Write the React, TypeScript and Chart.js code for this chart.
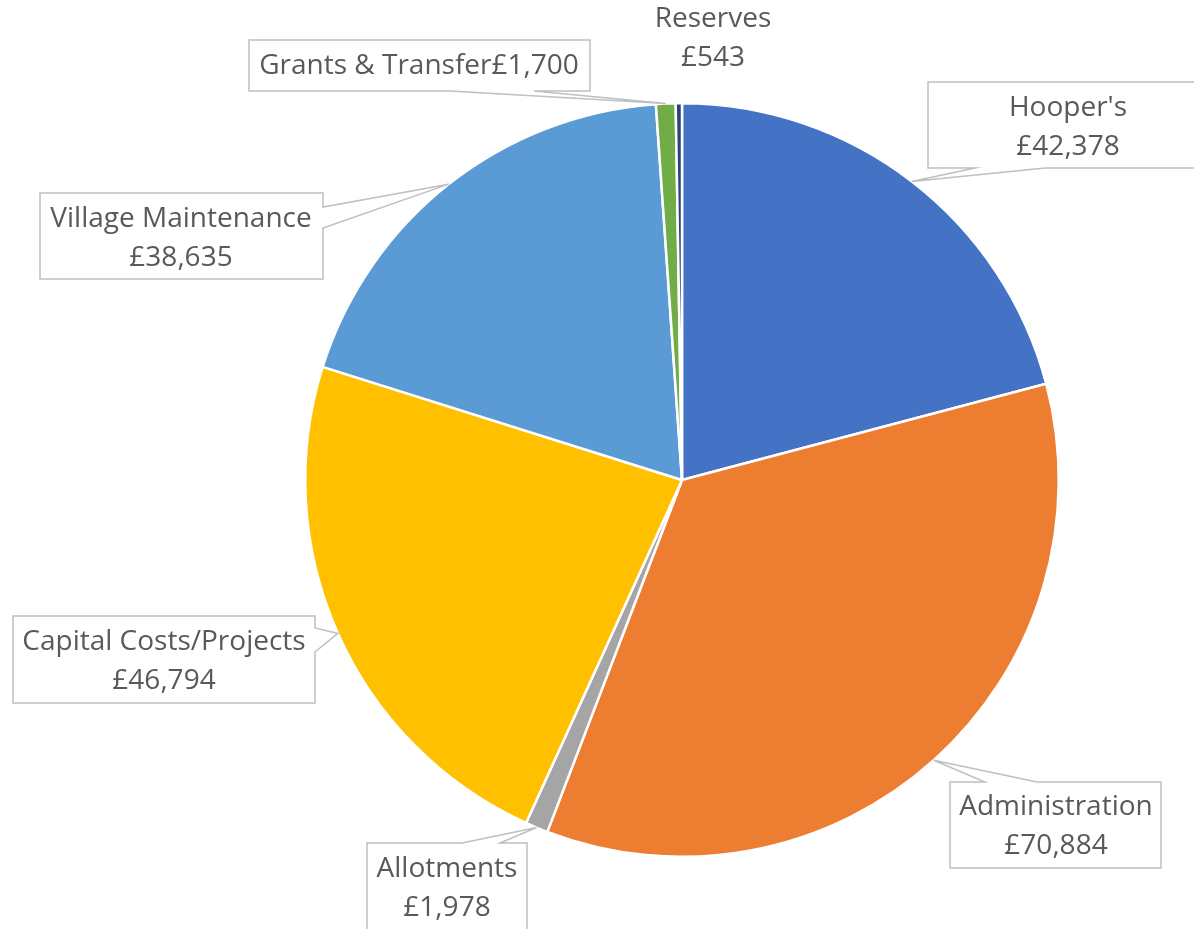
import React, { useEffect, useRef } from "react";
import { Chart, registerables } from "chart.js";

Chart.register(...registerables);

const categories = ["Hooper's", "Administration", "Allotments", "Capital Costs/Projects", "Village Maintenance", "Grants & Transfer", "Reserves"];
const values = [42378, 70884, 1978, 46794, 38635, 1700, 543];
const valueLabels = ["£42,378", "£70,884", "£1,978", "£46,794", "£38,635", "£1,700", "£543"];
const colors = ["#4472C4", "#ED7D31", "#A5A5A5", "#FFC000", "#5B9BD5", "#70AD47", "#264478"];

// callout layout: box rect, wedge base side and range, text centre & line mode
type Callout = {
  box: [number, number, number, number] | null; // x1,y1,x2,y2
  side?: "top" | "bottom" | "left" | "right";
  base?: [number, number];
  tx: number;
  ty: number;
  single?: boolean;
};
const callouts: Callout[] = [
  { box: [928, 82, 1210, 168], side: "bottom", base: [975, 1045], tx: 1068, ty: 108 },
  { box: [950, 782, 1161, 868], side: "top", base: [985, 1037], tx: 1056, ty: 807 },
  { box: [367, 843, 527, 940], side: "top", base: [462, 500], tx: 447, ty: 869 },
  { box: [13, 616, 315, 703], side: "right", base: [628, 652], tx: 164, ty: 642 },
  { box: [40, 193, 323, 279], side: "right", base: [207, 228], tx: 181, ty: 219 },
  { box: [249, 40, 590, 91], side: "bottom", base: [450, 534], tx: 419, ty: 66, single: true },
  { box: null, tx: 713, ty: 19 },
];

const FONT = "28px 'Open Sans', sans-serif";
const LINE = 39;

const calloutPlugin = {
  id: "callouts",
  afterDraw(chart: any) {
    const ctx = chart.ctx as CanvasRenderingContext2D;
    const meta = chart.getDatasetMeta(0);
    ctx.save();
    meta.data.forEach((arc: any, i: number) => {
      const c = callouts[i];
      const p = arc.getProps(["x", "y", "startAngle", "endAngle", "outerRadius"], true);
      const mid = (p.startAngle + p.endAngle) / 2;
      const tipX = p.x + Math.cos(mid) * p.outerRadius;
      const tipY = p.y + Math.sin(mid) * p.outerRadius;
      if (c.box) {
        const [x1, y1, x2, y2] = c.box;
        const [b1, b2] = c.base!;
        ctx.beginPath();
        ctx.moveTo(x1, y1);
        if (c.side === "top") { ctx.lineTo(b1, y1); ctx.lineTo(tipX, tipY); ctx.lineTo(b2, y1); }
        ctx.lineTo(x2, y1);
        if (c.side === "right") { ctx.lineTo(x2, b1); ctx.lineTo(tipX, tipY); ctx.lineTo(x2, b2); }
        ctx.lineTo(x2, y2);
        if (c.side === "bottom") { ctx.lineTo(b2, y2); ctx.lineTo(tipX, tipY); ctx.lineTo(b1, y2); }
        ctx.lineTo(x1, y2);
        ctx.closePath();
        ctx.fillStyle = "#FFFFFF";
        ctx.fill();
        ctx.strokeStyle = "#BFBFBF";
        ctx.lineWidth = 1.5;
        ctx.stroke();
      }
      ctx.fillStyle = "#595959";
      ctx.font = FONT;
      ctx.textAlign = "center";
      ctx.textBaseline = "middle";
      if (c.single) {
        ctx.fillText(categories[i] + valueLabels[i], c.tx, c.ty);
      } else {
        ctx.fillText(categories[i], c.tx, c.ty);
        ctx.fillText(valueLabels[i], c.tx, c.ty + LINE);
      }
    });
    ctx.restore();
  },
};

export default function App() {
  const ref = useRef<HTMLCanvasElement>(null);
  useEffect(() => {
    const chart = new Chart(ref.current!, {
      type: "pie",
      data: {
        labels: categories,
        datasets: [{ data: values, backgroundColor: colors, borderColor: "#FFFFFF", borderWidth: 2.5 }],
      },
      options: {
        animation: false,
        responsive: false,
        layout: { padding: { left: 304, right: 134, top: 102, bottom: 71 } },
        plugins: { legend: { display: false }, tooltip: { enabled: false } },
      },
      plugins: [calloutPlugin],
    });
    return () => chart.destroy();
  }, []);
  return (
    <div style={{ position: "fixed", left: 0, top: 0, width: 1194, height: 929, background: "#fff" }}>
      <canvas ref={ref} width={1194} height={929} style={{ width: 1194, height: 929 }} />
    </div>
  );
}
